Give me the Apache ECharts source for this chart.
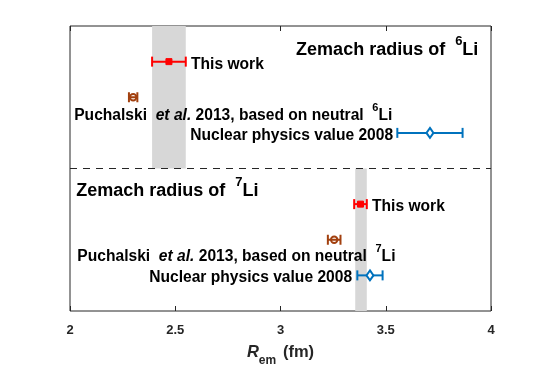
<!DOCTYPE html>
<html><head><meta charset="utf-8">
<script src="https://cdn.jsdelivr.net/npm/echarts@6/dist/echarts.min.js"></script>
<style>html,body{margin:0;padding:0;background:#fff}#c{width:543px;height:372px}</style>
</head><body><div id="c"></div>
<script>
// ---- data ----
const thisWork   = [[2.47, 7, 0.08], [3.38, 3, 0.03]];   // [value, row, error]
const puchalski  = [[2.30, 6, 0.02], [3.255, 2, 0.03]];
const nuclear    = [[3.71, 5, 0.155], [3.425, 1, 0.06]];
const bands      = [[2.39, 2.55, 4, 8], [3.355, 3.41, 0, 4]]; // [x0,x1,y0,y1]
const xTicks = [2, 2.5, 3, 3.5, 4];
const texts = [
  // [x, y, text, align, size]
  [3.94, 7.4, 'Zemach radius of  {sup|6}Li', 'right', 'title'],
  [2.575, 7.0, 'This work', 'left', 'lab'],
  [2.02, 5.55, 'Puchalski  {it|et al.} 2013, based on neutral  {sup|6}Li', 'left', 'lab'],
  [3.535, 5.0, 'Nuclear physics value 2008', 'right', 'lab'],
  [2.03, 3.45, 'Zemach radius of  {sup|7}Li', 'left', 'title'],
  [3.435, 3.0, 'This work', 'left', 'lab'],
  [2.035, 1.6, 'Puchalski  {it|et al.} 2013, based on neutral  {sup|7}Li', 'left', 'lab'],
  [3.34, 1.0, 'Nuclear physics value 2008', 'right', 'lab']
];

const FONT = '"Liberation Sans", Arial, Helvetica, sans-serif';
function richFor(kind){
  const fs = kind === 'title' ? 18 : 15.6;
  const lh = fs + 6;
  return {
    fs, lh,
    rich: {
      n:   {fontSize: fs, fontWeight: 'bold', fontFamily: FONT, lineHeight: lh, verticalAlign: 'bottom', fill:'#000'},
      it:  {fontSize: fs, fontWeight: 'bold', fontStyle: 'italic', fontFamily: FONT, lineHeight: lh, verticalAlign: 'bottom', fill:'#000'},
      sup: {fontSize: Math.round(fs*0.72), fontWeight: 'bold', fontFamily: FONT, lineHeight: Math.round(fs*0.72), verticalAlign: 'top', fill:'#000'}
    }
  };
}
function wrapText(t){
  return t.split(/(\{[a-z]+\|[^}]*\})/).filter(s=>s.length).map(s=> s[0]==='{' ? s : '{n|'+s+'}').join('');
}

function errBar(color, marker){
  return function(params, api){
    const x = api.value(0), y = api.value(1), e = api.value(2);
    const c = api.coord([x, y]), l = api.coord([x - e, y]), r = api.coord([x + e, y]);
    const lw = 2, cap = 5;
    const st = {stroke: color, lineWidth: lw};
    const ch = [
      {type:'line', shape:{x1:l[0], y1:c[1], x2:r[0], y2:c[1]}, style: st},
      {type:'line', shape:{x1:l[0], y1:c[1]-cap, x2:l[0], y2:c[1]+cap}, style: st},
      {type:'line', shape:{x1:r[0], y1:c[1]-cap, x2:r[0], y2:c[1]+cap}, style: st}
    ];
    if (marker === 'square') {
      ch.push({type:'rect', shape:{x:c[0]-3, y:c[1]-3, width:6, height:6}, style:{fill: color, stroke: color, lineWidth:1}});
    } else if (marker === 'circle') {
      ch.push({type:'circle', shape:{cx:c[0], cy:c[1], r:3.2}, style:{fill:'none', stroke: color, lineWidth: 2}});
    } else if (marker === 'diamond') {
      ch.push({type:'polygon', shape:{points:[[c[0], c[1]-5],[c[0]+3.5, c[1]],[c[0], c[1]+5],[c[0]-3.5, c[1]]]}, style:{fill:'#fff', stroke: color, lineWidth: 2}});
    }
    return {type:'group', children: ch};
  };
}

const chart = echarts.init(document.getElementById('c'), null, {renderer:'canvas'});
const axisCommon = {
  type:'value', min: xTicks[0], max: xTicks[xTicks.length-1], interval: 0.5,
  axisLine:{show:false}, splitLine:{show:false},
  axisTick:{show:true, inside:true, length:5, lineStyle:{color:'#262626', width:1}}
};
chart.setOption({
  animation:false,
  backgroundColor:'#fff',
  grid:{left:70, right:52, top:26, bottom:60, show:true, borderColor:'#262626', borderWidth:1, backgroundColor:'transparent'},
  xAxis:[
    Object.assign({}, axisCommon, {position:'bottom',
      axisLabel:{show:true, color:'#262626', fontSize:13, fontWeight:'bold', fontFamily:FONT, margin:13,
        formatter: v => xTicks.indexOf(v) >= 0 ? String(v) : ''},
      name:'{i|R}{s|em}  {n|(fm)}', nameLocation:'middle', nameGap:33,
      nameTextStyle:{rich:{
        i:{fontSize:16.5, fontStyle:'italic', fontWeight:'bold', fontFamily:FONT, color:'#262626', lineHeight:20, verticalAlign:'top'},
        s:{fontSize:12, fontWeight:'bold', fontFamily:FONT, color:'#262626', lineHeight:12, verticalAlign:'bottom', padding:[0,0,-3,0]},
        n:{fontSize:16.5, fontWeight:'bold', fontFamily:FONT, color:'#262626', lineHeight:20, verticalAlign:'top'}
      }}
    }),
    Object.assign({}, axisCommon, {position:'top', axisLabel:{show:false}})
  ],
  yAxis:{type:'value', min:0, max:8, show:false},
  series:[
    {
      type:'custom', z:1,
      data: bands,
      renderItem: (p, api) => {
        const a = api.coord([api.value(0), api.value(3)]);
        const b = api.coord([api.value(1), api.value(2)]);
        return {type:'rect', shape:{x:a[0], y:a[1], width:b[0]-a[0], height:b[1]-a[1]}, style:{fill:'#d7d7d7'}};
      },
      markLine:{silent:true, symbol:'none', label:{show:false},
        lineStyle:{color:'#262626', type:[7,6], width:1},
        data:[{yAxis:4}]}
    },
    {type:'custom', z:3, data: thisWork, renderItem: errBar('#ff0000', 'square')},
    {type:'custom', z:3, data: puchalski, renderItem: errBar('#a2400f', 'circle')},
    {type:'custom', z:3, data: nuclear, renderItem: errBar('#0072bd', 'diamond')},
    {
      type:'custom', z:4,
      data: texts.map(t => [t[0], t[1]]),
      renderItem: (p, api) => {
        const t = texts[p.dataIndex];
        const c = api.coord([api.value(0), api.value(1)]);
        const rf = richFor(t[4]);
        return {type:'text', x:c[0], y:c[1], style:{
          text: wrapText(t[2]), rich: rf.rich, align: t[3], verticalAlign:'middle',
          font: 'bold ' + rf.fs + 'px ' + FONT, fill:'#000'
        }};
      }
    }
  ]
});
</script></body></html>
